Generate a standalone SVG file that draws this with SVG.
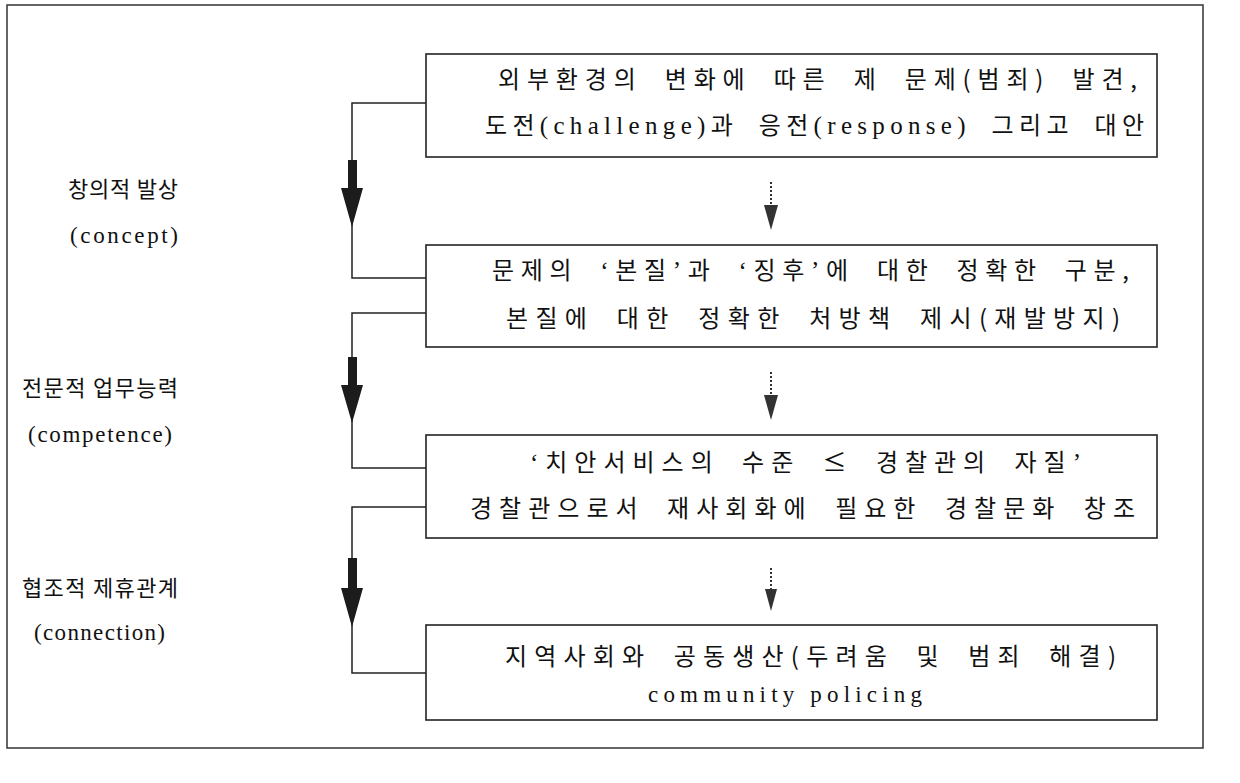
<svg xmlns="http://www.w3.org/2000/svg" width="1240" height="783" viewBox="0 0 1240 783">
<style>
.frame{fill:none;stroke:#333;stroke-width:1.5}
.box{fill:#fff;stroke:#222;stroke-width:1.6}
.ln{fill:none;stroke:#222;stroke-width:1.5}
.t{font-family:"Liberation Serif","Noto Sans CJK KR",serif;font-size:23px;fill:#111}
.k{font-family:"Noto Sans CJK KR","Liberation Serif",sans-serif;font-size:22px;fill:#111}
.b{font-family:"Noto Sans CJK KR","Liberation Serif",sans-serif;font-size:24px;letter-spacing:1px;word-spacing:10px;fill:#111}
.l{font-family:"Liberation Serif",serif;font-size:25px}
.big{fill:#1c1c1c}
.dash{stroke:#333;stroke-width:2;stroke-dasharray:2 2;fill:none}
.dhead{fill:#333}
</style>
<rect class="frame" x="7" y="5" width="1196" height="743"/>
<g id="connectors">
  <polyline class="ln" points="426,103 352,103 352,278 426,278"/>
  <polyline class="ln" points="426,313 352,313 352,468 426,468"/>
  <polyline class="ln" points="426,507 352,507 352,673 426,673"/>
  <polygon class="big" points="348,160 357,160 357,188 363,188 352,227 341,188 348,188"/>
  <polygon class="big" points="348,357 357,357 357,385 363,385 352,423 341,385 348,385"/>
  <polygon class="big" points="348,558 357,558 357,588 363,588 352,627 341,588 348,588"/>
  <line class="dash" x1="771" y1="182" x2="771" y2="207"/>
  <polygon class="dhead" points="764,205 778,205 771,230"/>
  <line class="dash" x1="771" y1="372" x2="771" y2="397"/>
  <polygon class="dhead" points="764,395 778,395 771,420"/>
  <line class="dash" x1="771" y1="568" x2="771" y2="591"/>
  <polygon class="dhead" points="765,589 777,589 771,611"/>
</g>
<g id="label1">
  <text class="k" x="68" y="197" textLength="110" lengthAdjust="spacing">창의적 발상</text>
  <text class="t" x="70" y="243" textLength="108" lengthAdjust="spacing">(concept)</text>
</g>
<g id="label2">
  <text class="k" x="22" y="396" textLength="156" lengthAdjust="spacing">전문적 업무능력</text>
  <text class="t" x="28" y="442" textLength="144" lengthAdjust="spacing">(competence)</text>
</g>
<g id="label3">
  <text class="k" x="22" y="596" textLength="156" lengthAdjust="spacing">협조적 제휴관계</text>
  <text class="t" x="34" y="640" textLength="131" lengthAdjust="spacing">(connection)</text>
</g>
<g id="box1">
  <rect class="box" x="426" y="54" width="731" height="103"/>
  <text class="b" x="498" y="88" textLength="640" lengthAdjust="spacing">외부환경의 변화에 따른 제 문제(범죄) 발견,</text>
  <text class="b" x="485" y="134" textLength="660" lengthAdjust="spacing">도전<tspan class="l" letter-spacing="1">(challenge)</tspan>과 응전<tspan class="l" letter-spacing="1">(response)</tspan> 그리고 대안</text>
</g>
<g id="box2">
  <rect class="box" x="426" y="245" width="731" height="102"/>
  <text class="b" x="492" y="279" textLength="638" lengthAdjust="spacing">문제의 <tspan class="l">‘</tspan>본질<tspan class="l">’</tspan>과 <tspan class="l">‘</tspan>징후<tspan class="l">’</tspan>에 대한 정확한 구분,</text>
  <text class="b" x="506" y="327" textLength="615" lengthAdjust="spacing">본질에 대한 정확한 처방책 제시(재발방지)</text>
</g>
<g id="box3">
  <rect class="box" x="426" y="435" width="731" height="103"/>
  <text class="b" x="530" y="471" textLength="552" lengthAdjust="spacing"><tspan class="l">‘</tspan>치안서비스의 수준 ≤ 경찰관의 자질<tspan class="l">’</tspan></text>
  <text class="b" x="470" y="517" textLength="666" lengthAdjust="spacing">경찰관으로서 재사회화에 필요한 경찰문화 창조</text>
</g>
<g id="box4">
  <rect class="box" x="426" y="625" width="731" height="95"/>
  <text class="b" x="505" y="665" textLength="612" lengthAdjust="spacing">지역사회와 공동생산(두려움 및 범죄 해결)</text>
  <text class="t" x="648" y="702" font-size="24" textLength="274" lengthAdjust="spacing">community policing</text>
</g>
</svg>
